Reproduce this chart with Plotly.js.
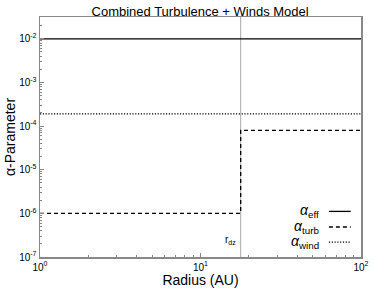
<!DOCTYPE html>
<html><head><meta charset="utf-8">
<script src="https://cdn.plot.ly/plotly-3.0.1.min.js"></script>
<style>html,body{margin:0;padding:0;background:#fff;}#c{width:374px;height:291px;}</style>
</head><body><div id="c"></div>
<script>
const radiusRange = [1, 100];
const rDz = 17.8;
const alphaEff = [1.0e-2, 1.0e-2];
const turbRadius = [1, rDz, rDz, 100];
const alphaTurb = [1e-6, 1e-6, 8e-5, 8e-5];
const alphaWind = [1.9e-4, 1.9e-4];
const yLimits = [1e-7, Math.pow(10, -1.5)];
const xTickVals = [1, 10, 100];
const xTickText = ['10<sup>0</sup>', '10<sup>1</sup>', '10<sup>2</sup>'];
const yTickVals = [1e-7, 1e-6, 1e-5, 1e-4, 1e-3, 1e-2];
const yTickText = ['10<sup>-7</sup>', '10<sup>-6</sup>', '10<sup>-5</sup>', '10<sup>-4</sup>', '10<sup>-3</sup>', '10<sup>-2</sup>'];
const legendNames = ['<i>α</i><sub>eff</sub>', '<i>α</i><sub>turb</sub>', '<i>α</i><sub>wind</sub>'];
const legendDash = ['solid', '4px,3px', '1.2px,1.6px'];
const lineWidths = [1.3, 1.3, 1.2];

const FONT = 'Liberation Sans, Arial, sans-serif';
const traces = [
  {x: [rDz, rDz], y: yLimits, mode: 'lines', line: {color: '#a8a8a8', width: 1}, showlegend: false, hoverinfo: 'skip'},
  {x: radiusRange, y: alphaEff, mode: 'lines', line: {color: '#000', width: lineWidths[0], dash: legendDash[0]}, showlegend: false},
  {x: turbRadius, y: alphaTurb, mode: 'lines', line: {color: '#000', width: lineWidths[1], dash: legendDash[1]}, showlegend: false},
  {x: radiusRange, y: alphaWind, mode: 'lines', line: {color: '#000', width: lineWidths[2], dash: legendDash[2]}, showlegend: false}
];

const annotations = [
  {x: Math.log10(rDz), y: 0.07, xref: 'x', yref: 'paper', xanchor: 'right', yanchor: 'middle', xshift: -3,
   text: 'r<sub>dz</sub>', showarrow: false, font: {family: FONT, size: 10, color: '#000'}}
];
const shapes = [];
const legY = [0.19, 0.125, 0.062];
for (let i = 0; i < 3; i++) {
  annotations.push({x: 0.876, y: legY[i], xref: 'paper', yref: 'paper', xanchor: 'right', yanchor: 'middle',
    text: legendNames[i], showarrow: false, font: {family: FONT, size: 14, color: '#000'}});
  shapes.push({type: 'line', xref: 'paper', yref: 'paper', x0: 0.9, x1: 0.968, y0: legY[i], y1: legY[i],
    line: {color: '#000', width: lineWidths[i], dash: legendDash[i]}});
}

const layout = {
  width: 374, height: 291,
  margin: {l: 40, r: 13, t: 17, b: 34},
  paper_bgcolor: '#fff', plot_bgcolor: '#fff',
  font: {family: FONT, size: 10, color: '#000'},
  title: {text: 'Combined Turbulence + Winds Model', x: 0.535, xanchor: 'center', y: 0.978, yanchor: 'top',
    font: {family: FONT, size: 13, color: '#000'}},
  xaxis: {type: 'log', range: [0, 2], tickvals: xTickVals, ticktext: xTickText, showgrid: false, zeroline: false,
    showline: true, mirror: true, linecolor: '#888', linewidth: 1.5, ticks: 'inside', ticklen: 4, tickcolor: '#888',
    minor: {ticks: 'inside', ticklen: 2, tickcolor: '#888', showgrid: false, dtick: 'D1'},
    tickfont: {size: 10}, title: {text: 'Radius (AU)', standoff: 2, font: {size: 14}}},
  yaxis: {type: 'log', range: [-7, -1.5], tickvals: yTickVals, ticktext: yTickText, showgrid: false, zeroline: false,
    showline: true, mirror: true, linecolor: '#888', linewidth: 1.5, ticks: 'inside', ticklen: 4, tickcolor: '#888',
    minor: {ticks: 'inside', ticklen: 2, tickcolor: '#888', showgrid: false, dtick: 'D1'},
    tickfont: {size: 10}, title: {text: 'α-Parameter', standoff: 0, font: {size: 14}}},
  annotations: annotations,
  shapes: shapes,
  showlegend: false
};
Plotly.newPlot('c', traces, layout, {displayModeBar: false, staticPlot: true});
</script></body></html>
